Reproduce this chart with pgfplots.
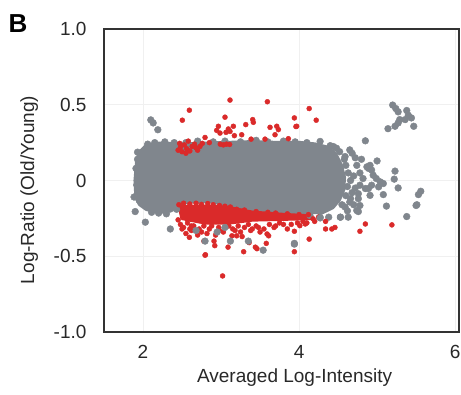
\documentclass[border=0pt]{standalone}
\usepackage{fontspec}
\setmainfont{Liberation Sans}
\usepackage{pgfplots}
\pgfplotsset{compat=1.18}
\definecolor{dotgray}{RGB}{128,134,141}
\definecolor{dotred}{RGB}{218,42,42}
\definecolor{txt}{RGB}{40,40,40}
\begin{document}
\begin{tikzpicture}
\begin{axis}[
  scale only axis, width=355pt, height=303pt,
  xmin=1.5, xmax=6.05, ymin=-1, ymax=1,
  xtick={2,4,6}, ytick={-1,-0.5,0,0.5,1},
  xticklabels={2,4,6}, yticklabels={-1.0,-0.5,0,0.5,1.0},
  major tick length=0pt,
  grid=major, grid style={draw=black!6, line width=0.8pt},
  axis line style={draw=black!80, line width=1.6pt},
  /pgf/number format/assume math mode=true,
  tick label style={font=\fontsize{19}{19}\selectfont, text=txt},
  yticklabel style={xshift=-14pt},
  xticklabel style={yshift=-10pt},
  xlabel={Averaged Log-Intensity},
  ylabel={Log-Ratio (Old/Young)},
  label style={font=\fontsize{19}{19}\selectfont, text=txt},
  xlabel style={at={(axis description cs:0.537,-0.152)}, anchor=center},
  ylabel style={at={(axis description cs:-0.211,0.469)}, anchor=center},
]
% dense gray body
\addplot[fill=dotgray, draw=dotgray, line width=6.6pt, line join=round, forget plot] coordinates {
(1.93,-0.10) (1.92,0.0) (1.94,0.12) (1.97,0.18) (2.05,0.22) (2.2,0.235) (2.5,0.23) (2.8,0.235)
(3.1,0.24) (3.4,0.245) (3.7,0.24) (4.0,0.24) (4.2,0.23) (4.35,0.21) (4.45,0.17) (4.52,0.1)
(4.56,0.02) (4.55,-0.06) (4.5,-0.12) (4.42,-0.17) (4.3,-0.2) (4.1,-0.2) (3.8,-0.2)
(3.5,-0.19) (3.2,-0.17) (2.9,-0.13) (2.6,-0.13) (2.43,-0.15) (2.35,-0.19) (2.2,-0.2) (2.05,-0.18)
(1.97,-0.15) (1.93,-0.10)
};
% gray points
\addplot[only marks, mark=*, mark size=3.4pt, color=dotgray, forget plot] coordinates {
(1.91,0.08) (1.92,-0.03) (1.93,0.14) (1.95,-0.13) (1.93,0.187) (1.885,-0.109) (1.90,-0.205)
(2.10,0.40) (2.13,0.38) (2.19,0.335) (2.06,0.24) (2.15,0.25) (2.28,0.255) (2.4,0.25)
(2.03,-0.275) (2.35,-0.32) (2.11,-0.21) (2.30,-0.22) (2.43,-0.19) (2.2,-0.215)
(2.55,0.25) (2.7,0.26) (2.9,0.255) (3.05,0.26) (3.25,0.255) (3.45,0.265) (3.6,0.255)
(3.8,0.26) (3.95,0.255) (4.1,0.25) (4.27,0.258)
(4.6,0.1) (4.63,0.05) (4.66,0.0) (4.62,-0.04) (4.68,-0.08) (4.6,-0.1) (4.58,0.14) (4.7,0.03)
(4.55,-0.16) (4.66,-0.12) (4.72,-0.05) (4.52,0.19) (4.4,0.23)
(4.48,0.213) (4.44,0.224) (4.65,0.202) (4.68,0.18) (4.59,0.158) (4.85,0.262) (5.00,0.129)
(4.91,0.10) (4.87,0.09) (4.89,0.08) (4.93,0.069) (5.23,0.062) (5.22,0.009) (5.27,-0.049)
(5.56,-0.071) (5.53,-0.093) (5.5,-0.165) (5.38,-0.238) (5.12,-0.169) (5.08,-0.093)
(4.95,0.035) (4.99,0.013) (5.04,-0.009) (4.93,-0.031) (4.89,-0.053) (5.02,-0.042) (5.08,-0.02)
(4.76,-0.12) (4.78,-0.165) (4.74,-0.198) (4.63,-0.242) (4.53,-0.242) (4.59,-0.175) (4.65,-0.142)
(4.38,-0.242) (4.27,-0.242) (4.14,-0.231) (4.82,0.013) (4.85,-0.053) (4.91,-0.098)
(4.76,-0.087) (4.78,-0.031) (5.51,-0.16) (4.76,-0.205) (4.74,0.1) (4.78,0.05) (4.8,0.14)
(4.72,0.15) (4.62,-0.2) (4.7,-0.16)
(5.20,0.498) (5.24,0.475) (5.27,0.453) (5.38,0.462) (5.40,0.431) (5.44,0.413) (5.29,0.402)
(5.27,0.380) (5.23,0.358) (5.14,0.342) (5.47,0.358) (5.36,0.402)
};
% red dense bottom core
\addplot[fill=dotred, draw=dotred, line width=3.5pt, line join=round, forget plot] coordinates {
(2.47,-0.175) (2.8,-0.17) (3.1,-0.18) (3.4,-0.21) (3.8,-0.225) (4.15,-0.235) (4.15,-0.25)
(3.8,-0.255) (3.4,-0.26) (3.1,-0.28) (2.8,-0.28) (2.5,-0.25) (2.47,-0.175)
};
% red points
\addplot[only marks, mark=*, mark size=2.5pt, color=dotred, forget plot] coordinates {
(3.115,0.531) (3.594,0.52) (2.594,0.464) (4.13,0.475) (2.504,0.398) (3.051,0.418) (3.94,0.413)
(3.406,0.402) (3.414,0.384) (3.317,0.369) (3.158,0.358) (3.094,0.34) (3.064,0.318) (3.115,0.324)
(2.966,0.358) (2.944,0.331) (2.987,0.313) (3.628,0.351) (3.714,0.358) (3.735,0.336) (3.97,0.358)
(4.22,0.398) (3.96,0.356) (3.171,0.296) (3.265,0.302) (3.692,0.302) (2.795,0.284) (3.385,0.273)
(3.564,0.273) (3.863,0.276) (2.58,0.26)
(2.45,0.2) (2.48,0.22) (2.5,0.19) (2.53,0.235) (2.56,0.21) (2.6,0.195) (2.63,0.225) (2.66,0.24)
(2.7,0.2) (2.73,0.225) (2.76,0.245) (2.47,0.245) (2.55,0.18) (2.68,0.215) (2.99,0.24) (3.03,0.235)
(3.07,0.24) (3.11,0.238) (2.85,0.25)
(2.46,-0.16) (2.52,-0.15) (2.6,-0.155) (2.68,-0.15) (2.75,-0.158) (2.83,-0.152) (2.9,-0.16)
(2.98,-0.165) (3.05,-0.17) (3.12,-0.175) (3.2,-0.19) (3.3,-0.195) (3.45,-0.205) (3.6,-0.21)
(3.7,-0.215) (3.85,-0.22) (4.0,-0.225) (4.12,-0.225)
(2.45,-0.26) (2.48,-0.29) (2.52,-0.31) (2.57,-0.28) (2.6,-0.32) (2.65,-0.3) (2.72,-0.32)
(2.78,-0.3) (2.82,-0.35) (2.88,-0.3) (2.93,-0.36) (2.97,-0.31) (3.03,-0.34) (3.1,-0.3)
(3.18,-0.33) (3.22,-0.3) (3.35,-0.29) (3.4,-0.32) (3.48,-0.31) (3.62,-0.29) (3.68,-0.31)
(3.75,-0.28) (3.9,-0.29) (3.98,-0.28) (4.1,-0.28) (4.2,-0.27)
(2.594,-0.375) (2.91,-0.40) (2.92,-0.43) (3.09,-0.44) (2.795,-0.493) (3.02,-0.63) (3.2,-0.365)
(3.27,-0.37) (3.36,-0.41) (3.44,-0.44) (3.46,-0.45) (3.58,-0.415) (3.29,-0.47) (3.61,-0.365)
(3.94,-0.335) (3.94,-0.47) (4.13,-0.387) (4.34,-0.27) (4.34,-0.32) (4.42,-0.32) (4.46,-0.31)
(4.08,-0.287) (4.01,-0.298) (4.18,-0.253) (4.25,-0.242) (4.85,-0.287) (4.78,-0.335) (5.19,-0.293)
(2.78,-0.40) (2.80,-0.49) (3.14,-0.365) (3.38,-0.33) (3.59,-0.353)
(2.5,-0.32) (2.62,-0.33) (2.75,-0.34) (2.85,-0.32) (2.98,-0.33) (3.15,-0.32) (3.3,-0.31)
(3.45,-0.3) (3.55,-0.32) (3.7,-0.3) (3.8,-0.29) (3.85,-0.32) (4.05,-0.27) (2.55,-0.35)
(2.7,-0.36) (2.62,-0.3) (3.5,-0.34) (3.25,-0.34)
};
% gray outliers among the red
\addplot[only marks, mark=*, mark size=3.4pt, color=dotgray, forget plot] coordinates {
(2.795,-0.40) (3.12,-0.40) (3.35,-0.40) (3.54,-0.46) (3.94,-0.415) (3.94,-0.42) (4.27,-0.247)
(4.53,-0.242) (2.68,-0.33) (2.95,-0.34) (3.05,-0.31)
};
\end{axis}
\node[font=\bfseries\fontsize{26}{26}\selectfont, text=black] at (-86pt,308pt) {B};
\pgfresetboundingbox
\path[use as bounding box] (-104pt,-62pt) rectangle (357pt,332pt);
\end{tikzpicture}
\end{document}
